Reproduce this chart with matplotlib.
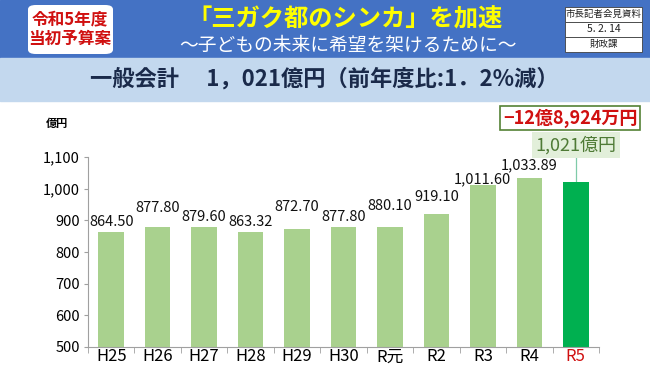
import matplotlib
matplotlib.use("Agg")
import matplotlib.pyplot as plt
from matplotlib.patches import Rectangle, FancyBboxPatch
from matplotlib.ticker import FuncFormatter

plt.rcParams["font.family"] = ["Noto Sans CJK JP", "DejaVu Sans"]

years = ["H25", "H26", "H27", "H28", "H29", "H30", "R元", "R2", "R3", "R4", "R5"]
budget = [864.50, 877.80, 879.60, 863.32, 872.70, 877.80, 880.10, 919.10, 1011.60, 1033.89, 1021.0]
value_labels = ["864.50", "877.80", "879.60", "863.32", "872.70", "877.80", "880.10",
                "919.10", "1,011.60", "1,033.89"]
# label lift above bar top, in px (staggered as in the slide)
label_lift = [10, 19, 10, 10, 22, 10, 21, 17, 6, 13]

title = "「三ガク都のシンカ」を加速"
subtitle = "～子どもの未来に希望を架けるために～"
headline = "一般会計　 1，021億円（前年度比:1．2%減）"
badge = "令和5年度\n当初予算案"
memo_rows = ["市長記者会見資料", "5. 2. 14", "財政課"]
diff_text = "−12億8,924万円"
latest_text = "1,021億円"

W, H = 650, 365
fig = plt.figure(figsize=(6.5, 3.65), dpi=100)


def fx(px):
    return px / W


def fy(py):
    return 1 - py / H


# header bands
fig.patches.append(Rectangle((0, fy(58)), 1, 58 / H, transform=fig.transFigure,
                             color="#4472C4", zorder=0))
fig.patches.append(Rectangle((0, fy(101)), 1, 43 / H, transform=fig.transFigure,
                             color="#C3D8EE", zorder=0))

# badge
fig.patches.append(FancyBboxPatch((fx(28), fy(54)), fx(85), 49 / H, transform=fig.transFigure,
                                  boxstyle="round,pad=0,rounding_size=0.012",
                                  facecolor="white", edgecolor="none", zorder=1))
fig.text(fx(70), fy(29), badge, ha="center", va="center", color="#D01010",
         fontsize=12, fontweight="bold", linespacing=1.1, zorder=2)

fig.text(fx(345), fy(19), title, ha="center", va="center", color="#FFFF00",
         fontsize=17.5, fontweight="bold")
fig.text(fx(348), fy(45), subtitle, ha="center", va="center", color="white", fontsize=13.5)

# memo box
row_h = 15
for i, row in enumerate(memo_rows):
    top = 7 + i * row_h
    fig.patches.append(Rectangle((fx(565), fy(top + row_h)), fx(77), row_h / H,
                                 transform=fig.transFigure, facecolor="white",
                                 edgecolor="#404040", linewidth=0.6, zorder=1))
    fig.text(fx(603.5), fy(top + row_h / 2), row, ha="center", va="center",
             fontsize=6.8 if i != 1 else 7.5, color="#222222", zorder=2)

fig.text(fx(324), fy(79), headline, ha="center", va="center", color="#1A2A4A",
         fontsize=16, fontweight="bold")

# chart
ax = fig.add_axes([fx(88), fy(347), fx(599 - 88), (347 - 157) / H])
x = range(len(years))
colors = ["#A9D18E"] * (len(years) - 1) + ["#00B050"]
ax.bar(x, budget, width=0.55, color=colors, zorder=2)
ax.set_ylim(500, 1100)
ax.set_xlim(-0.5, len(years) - 0.5)
ax.set_yticks(range(500, 1101, 100))
ax.yaxis.set_major_formatter(FuncFormatter(lambda v, p: f"{int(v):,}"))
ax.tick_params(axis="y", labelsize=10.5, length=3, color="#A0A0A0", pad=3)
ax.set_xticks([i for i in x])
ax.set_xticklabels(years, fontsize=12)
ax.tick_params(axis="x", length=0, pad=1)
ax.set_xticks([i - 0.5 for i in range(len(years) + 1)], minor=True)
ax.tick_params(axis="x", which="minor", length=4, color="#A0A0A0")
ax.get_xticklabels()[-1].set_color("#D01010")
for side in ["top", "right"]:
    ax.spines[side].set_visible(False)
for side in ["left", "bottom"]:
    ax.spines[side].set_color("#A0A0A0")
    ax.spines[side].set_linewidth(0.8)

for i, (lab, lift) in enumerate(zip(value_labels, label_lift)):
    ax.annotate(lab, (i, budget[i]), xytext=(0, lift * 0.72), textcoords="offset points",
                ha="center", va="center", fontsize=10.5, color="#111111")

fig.text(fx(57), fy(124), "億円", ha="center", va="center", fontsize=8, fontweight="bold")

# callouts for the latest year
last = len(years) - 1
ax.plot([last, last], [budget[last], 1100], color="#7FCBA8", lw=0.9, clip_on=False, zorder=1)
ax.annotate(latest_text, (last, budget[last]), xytext=(0, 37 * 0.72), textcoords="offset points",
            ha="center", va="center", fontsize=13, color="#4E7A35",
            bbox=dict(boxstyle="square,pad=0.2", facecolor="#E2EFDA", edgecolor="none"))
fig.text(fx(570), fy(118), diff_text, ha="center", va="center", fontsize=13,
         fontweight="bold", color="#D01010",
         bbox=dict(boxstyle="square,pad=0.15", facecolor="white", edgecolor="#548235", linewidth=1.2))

fig.savefig("out.png", dpi=100)
